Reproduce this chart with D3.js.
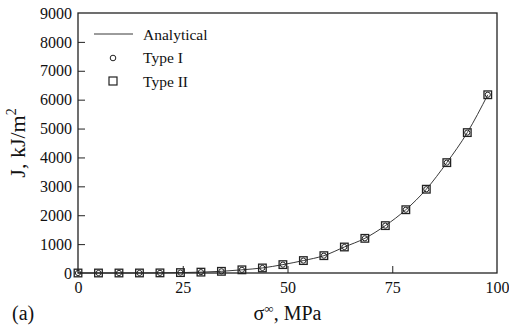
<!DOCTYPE html>
<html>
<head>
<meta charset="utf-8">
<script src="https://cdn.jsdelivr.net/npm/d3@7"></script>
<style>
  body { margin: 0; background: #fff; }
  svg text { font-family: "Liberation Serif", "DejaVu Serif", serif; fill: #111; }
</style>
</head>
<body>
<div id="chart"><svg></svg></div>
<script>
// data
const sigma = [0, 4.89, 9.78, 14.67, 19.56, 24.45, 29.34, 34.23, 39.12, 44.01, 48.9,
               53.79, 58.68, 63.57, 68.46, 73.35, 78.24, 83.13, 88.02, 92.91, 97.8];
const jAnalytical = [0, 0, 0, 1, 4, 14, 30, 58, 110, 175, 290,
                     430, 600, 900, 1200, 1640, 2190, 2900, 3820, 4860, 6170];
const jType1 = [0, 0, 0, 1, 4, 14, 30, 58, 110, 175, 290,
                430, 600, 900, 1200, 1640, 2190, 2900, 3820, 4860, 6170];
const jType2 = [0, 0, 0, 1, 4, 14, 30, 58, 110, 175, 290,
                430, 600, 900, 1200, 1640, 2190, 2900, 3820, 4860, 6170];
const xTicks = [0, 25, 50, 75, 100];
const yTicks = [0, 1000, 2000, 3000, 4000, 5000, 6000, 7000, 8000, 9000];
const legendLabels = ['Analytical', 'Type I', 'Type II'];

const width = 509, height = 326;
const margin = { top: 13, right: 12, bottom: 53, left: 78 };
const plotW = width - margin.left - margin.right;
const plotH = height - margin.top - margin.bottom;

const svg = d3.select('#chart').select('svg')
  .attr('width', width).attr('height', height);
const g = svg.append('g').attr('transform', `translate(${margin.left},${margin.top})`);

const x = d3.scaleLinear().domain([0, 100]).range([0, plotW]);
const y = d3.scaleLinear().domain([0, 9000]).range([plotH, 0]);

// inward ticks, labels outside
const xAxis = d3.axisBottom(x).tickValues(xTicks).tickSize(-7).tickPadding(9).tickFormat(d3.format('d'));
const yAxis = d3.axisLeft(y).tickValues(yTicks).tickSize(-7).tickPadding(6).tickFormat(d3.format('d'));

const gx = g.append('g').attr('transform', `translate(0,${plotH})`).call(xAxis);
const gy = g.append('g').call(yAxis);
[gx, gy].forEach(a => {
  a.select('.domain').remove();
  a.selectAll('line').attr('stroke', '#222').attr('stroke-width', 1);
  a.selectAll('text').attr('font-size', 16).attr('font-family', '"Liberation Serif", serif').attr('fill', '#111');
});
gx.selectAll('.tick').filter(d => d === 0 || d === 100).select('line').remove();
gy.selectAll('.tick').filter(d => d === 0 || d === 9000).select('line').remove();

g.append('rect').attr('x', 0).attr('y', 0).attr('width', plotW).attr('height', plotH)
  .attr('fill', 'none').attr('stroke', '#222').attr('stroke-width', 1.3);

const line = d3.line().x((d, i) => x(sigma[i])).y(d => y(d)).curve(d3.curveMonotoneX);
g.append('path').datum(jAnalytical).attr('d', line)
  .attr('fill', 'none').attr('stroke', '#222').attr('stroke-width', 0.9);

g.selectAll('.t1').data(jType1).enter().append('circle')
  .attr('cx', (d, i) => x(sigma[i])).attr('cy', d => y(d)).attr('r', 2.6)
  .attr('fill', 'none').attr('stroke', '#222').attr('stroke-width', 1);

g.selectAll('.t2').data(jType2).enter().append('rect')
  .attr('x', (d, i) => x(sigma[i]) - 3.8).attr('y', d => y(d) - 3.8)
  .attr('width', 7.6).attr('height', 7.6)
  .attr('fill', 'none').attr('stroke', '#222').attr('stroke-width', 1.3);

// legend
const lg = svg.append('g');
lg.append('line').attr('x1', 94).attr('x2', 133).attr('y1', 34).attr('y2', 34)
  .attr('stroke', '#222').attr('stroke-width', 0.9);
lg.append('circle').attr('cx', 113).attr('cy', 58).attr('r', 2.8)
  .attr('fill', 'none').attr('stroke', '#222').attr('stroke-width', 1);
lg.append('rect').attr('x', 109).attr('y', 77).attr('width', 8).attr('height', 8)
  .attr('fill', 'none').attr('stroke', '#222').attr('stroke-width', 1.2);
lg.selectAll('text').data(legendLabels).enter().append('text')
  .attr('x', 143).attr('y', (d, i) => 39.5 + i * 23.5)
  .attr('font-size', 15.5).text(d => d);

// axis titles
svg.append('text').attr('transform', `translate(25,${margin.top + plotH / 2}) rotate(-90)`)
  .attr('text-anchor', 'middle').attr('font-size', 22)
  .html('J, kJ/m<tspan dy="-9" font-size="14">2</tspan>');
svg.append('text').attr('x', margin.left + x(50)).attr('y', 320)
  .attr('text-anchor', 'middle').attr('font-size', 20)
  .html('σ<tspan dy="-7" font-size="13">∞</tspan><tspan dy="7">, MPa</tspan>');
svg.append('text').attr('x', 12).attr('y', 320).attr('font-size', 20).text('(a)');
</script>
</body>
</html>
